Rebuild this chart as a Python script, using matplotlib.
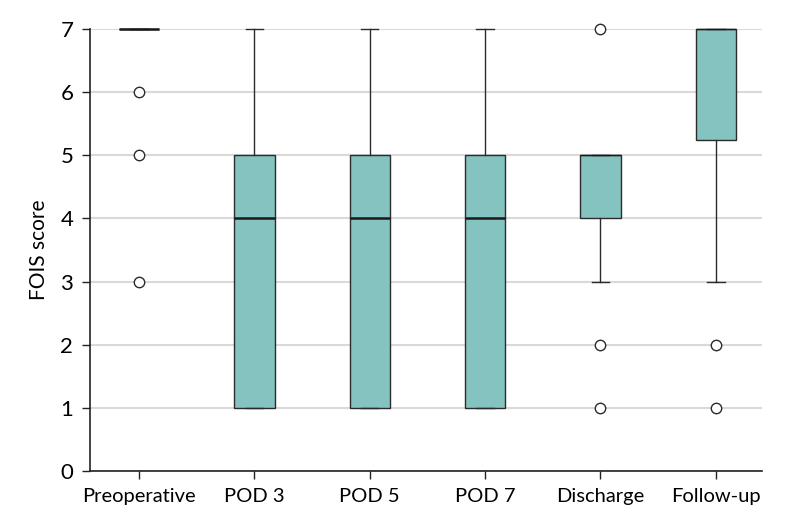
import matplotlib
matplotlib.use("Agg")
import matplotlib.pyplot as plt

categories = ["Preoperative", "POD 3", "POD 5", "POD 7", "Discharge", "Follow-up"]
q1 = [7, 1, 1, 1, 4, 5.25]
med = [7, 4, 4, 4, 5, 7]
q3 = [7, 5, 5, 5, 5, 7]
whislo = [7, 1, 1, 1, 3, 3]
whishi = [7, 7, 7, 7, 5, 7]
fliers = [[6, 5, 3], [], [], [], [7, 2, 1], [2, 1]]
yticks = [0, 1, 2, 3, 4, 5, 6, 7]

plt.rcParams['font.family'] = ['Lato', 'DejaVu Sans']

fig = plt.figure(figsize=(7.94, 5.21), dpi=100)
ax = fig.add_axes([90/794, 50/521, 672/794, 442/521])

stats = []
for i, c in enumerate(categories):
    stats.append(dict(label=c, q1=q1[i], med=med[i], q3=q3[i],
                      whislo=whislo[i], whishi=whishi[i], fliers=fliers[i]))

edge = "#2b2b2b"
bp = ax.bxp(stats, positions=range(len(categories)), widths=0.35, patch_artist=True,
            boxprops=dict(facecolor="#84C3C0", edgecolor=edge, linewidth=1.0),
            medianprops=dict(color="#1a1a1a", linewidth=1.8),
            whiskerprops=dict(color=edge, linewidth=1.0),
            capprops=dict(color=edge, linewidth=1.0),
            capwidths=0.15,
            flierprops=dict(marker="o", markersize=7.5, markerfacecolor="white",
                            markeredgecolor=edge, markeredgewidth=1.0),
            zorder=3)
for art in bp['fliers'] + bp['medians'] + bp['caps'] + bp['whiskers'] + bp['boxes']:
    art.set_clip_on(False)
# medians coinciding with the upper box edge look like a normal edge
for i, m in enumerate(bp['medians']):
    if med[i] == q3[i] and q1[i] != q3[i]:
        m.set_linewidth(1.0)

ax.set_xlim(-0.425, 5.4)
ax.set_ylim(0, 7)
ax.set_yticks(yticks)
ax.set_xticks(range(len(categories)))
ax.set_xticklabels(categories)
ax.yaxis.grid(True, color="#d9d9d9", linewidth=1.5, zorder=0)
ax.set_axisbelow(True)
for s in ["top", "right"]:
    ax.spines[s].set_visible(False)
for s in ["left", "bottom"]:
    ax.spines[s].set_color("#222222")
    ax.spines[s].set_linewidth(1.2)
ax.tick_params(axis="both", labelsize=14.5, color="#222222", length=6, width=1.0, pad=6)
ax.tick_params(axis="y", labelsize=16)
ax.set_ylabel("FOIS score", fontsize=15, labelpad=8)

fig.savefig("out.png", dpi=100)
